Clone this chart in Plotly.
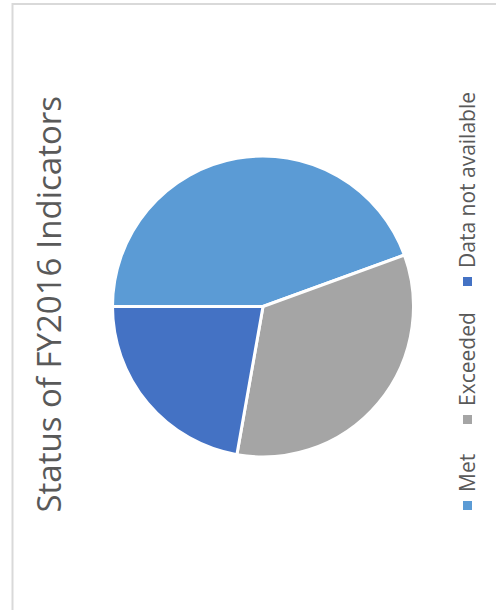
import plotly.graph_objects as go

# Data
categories = ["Met", "Exceeded", "Data not available"]
values = [8, 6, 4]
colors = ["#5B9BD5", "#A5A5A5", "#4472C4"]
title_text = "Status of FY2016 Indicators"

W, H = 496, 610


def px(x):
    return x / W


def py(y):
    return 1 - y / H


fig = go.Figure()
fig.add_trace(go.Pie(
    labels=categories,
    values=values,
    sort=False,
    direction="clockwise",
    rotation=270,
    marker=dict(colors=colors, line=dict(color="white", width=3)),
    textinfo="none",
    hoverinfo="label+value+percent",
    showlegend=False,
    domain=dict(x=[px(112.5), px(413.5)], y=[py(457), py(156)]),
))

annotations = [
    dict(text=title_text, textangle=-90, x=px(48), y=py(304.5),
         xref="paper", yref="paper", xanchor="center", yanchor="middle",
         showarrow=False, borderpad=0,
         font=dict(family="Open Sans, sans-serif", size=33, color="#595959")),
]
shapes = [
    dict(type="rect", xref="paper", yref="paper",
         x0=px(12.5), x1=px(W + 5), y0=py(H + 5), y1=py(4),
         line=dict(color="#D9D9D9", width=2), fillcolor="rgba(0,0,0,0)", layer="below"),
]

# Legend (rotated, drawn as text + square markers)
sq_bottoms = [510, 424, 286]
for cat, col, yb in zip(categories, colors, sq_bottoms):
    shapes.append(dict(type="rect", xref="paper", yref="paper",
                       x0=px(463), x1=px(472), y0=py(yb), y1=py(yb - 9),
                       line=dict(width=0), fillcolor=col))
    annotations.append(dict(text=cat, textangle=-90, x=px(467), y=py(yb - 17),
                            xref="paper", yref="paper", xanchor="center", yanchor="bottom",
                            showarrow=False, borderpad=0,
                            font=dict(family="Open Sans, sans-serif", size=21, color="#595959")))

fig.update_layout(
    width=W, height=H,
    margin=dict(l=0, r=0, t=0, b=0),
    paper_bgcolor="white", plot_bgcolor="white",
    annotations=annotations, shapes=shapes,
)

fig.write_html("out.html", config={"displayModeBar": False},
               post_script="document.body.style.margin='0px';")
